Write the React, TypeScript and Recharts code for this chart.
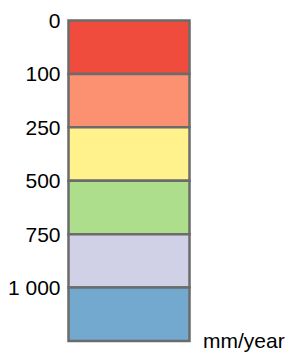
import { BarChart, Bar, XAxis, YAxis, Label } from 'recharts';

// class breaks shown down the left side (mm/year)
const breakLabels = ['0', '100', '250', '500', '750', '1 000'];
// one stacked segment per class, all drawn at the same height
const classKeys = ['c0', 'c1', 'c2', 'c3', 'c4', 'c5'];
const classHeights = [1, 1, 1, 1, 1, 1];
const classColors = ['#EF4C3D', '#FC9171', '#FFF18C', '#ADDE8C', '#D0D1E6', '#73A9CF'];
const unitLabel = 'mm/year';

const row: Record<string, string | number> = { name: unitLabel };
classKeys.forEach((k, i) => {
  row[k] = classHeights[i];
});
const data = [row];

// unit text sits just right of the bar, baseline a little below its bottom edge
// eslint-disable-next-line @typescript-eslint/no-explicit-any
function UnitLabel({ viewBox }: any) {
  if (!viewBox) return null;
  return (
    <text x={viewBox.x + viewBox.width + 14} y={viewBox.y + 6.5} fill="#000" fontSize={21}>
      {unitLabel}
    </text>
  );
}

export default function App() {
  return (
    <div style={{ position: 'absolute', left: 0, top: 0, fontFamily: '"Liberation Sans", Arial, sans-serif' }}>
      <BarChart
        width={291}
        height={355}
        data={data}
        margin={{ top: 20.5, right: 102, bottom: 0, left: 0 }}
        barCategoryGap={0}
      >
        <XAxis
          dataKey="name"
          height={14}
          axisLine={false}
          tickLine={false}
          tick={false}
        >
          <Label content={<UnitLabel />} />
        </XAxis>
        <YAxis
          type="number"
          width={68.5}
          domain={[0, 6]}
          ticks={[0, 1, 2, 3, 4, 5]}
          reversed
          axisLine={false}
          tickLine={false}
          interval={0}
          tickFormatter={(v: number) => breakLabels[v]}
          tick={{ fill: '#000', fontSize: 21 }}
        />
        {classKeys.map((k, i) => (
          <Bar
            key={k}
            dataKey={k}
            stackId="a"
            fill={classColors[i]}
            stroke="#6b6b6b"
            strokeWidth={2.5}
            isAnimationActive={false}
          />
        ))}
      </BarChart>
    </div>
  );
}
